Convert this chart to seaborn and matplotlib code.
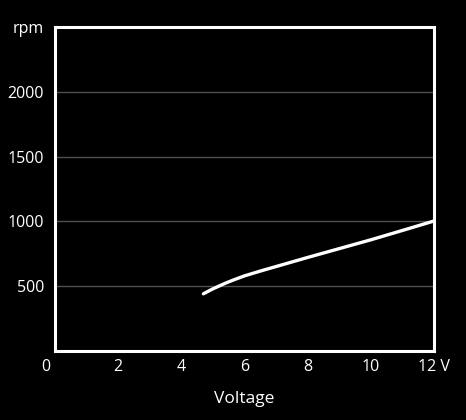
import matplotlib
matplotlib.use("Agg")
import matplotlib.pyplot as plt
import matplotlib.transforms as mtransforms
import seaborn as sns
import pandas as pd

# valores
voltage = [4.7, 5.0, 5.4, 5.7, 6.0, 6.5, 7.0, 8.0, 9.0, 10.0, 11.0, 12.0]
rpm = [442, 480, 524, 553, 580, 617, 652, 722, 790, 858, 930, 1003]

x_ticks = [0, 2, 4, 6, 8, 10, 12]
x_labels = ["0", "2", "4", "6", "8", "10", "12 V"]
y_ticks = [500, 1000, 1500, 2000, 2500]
y_labels = ["500", "1000", "1500", "2000", "rpm"]

sns.set_style("dark")
plt.rcParams['font.family'] = ['Open Sans', 'DejaVu Sans']

df = pd.DataFrame({'Voltage': voltage, 'rpm': rpm})

fig = plt.figure(figsize=(4.66, 4.2), dpi=100, facecolor='black')
ax = fig.add_axes([0.118, 0.164, 0.813, 0.772])
ax.set_facecolor('black')

# linhas de grade
for y in y_ticks[:-1]:
    ax.axhline(y, color='#505050', lw=1.0, zorder=1)

sns.lineplot(data=df, x='Voltage', y='rpm', ax=ax, color='white', lw=2.4, zorder=3)

ax.set_xlim(0, 12)
ax.set_ylim(0, 2500)

ax.set_xticks(x_ticks)
ax.set_xticklabels(x_labels)
ax.set_yticks(y_ticks)
ax.set_yticklabels(y_labels)

ax.tick_params(axis='x', direction='in', length=4, width=1, color='#bbbbbb',
               colors='white', labelsize=11.5, pad=6)
ax.tick_params(axis='y', length=0, colors='white', labelsize=11.5, pad=8)

# "0" fica um pouco à esquerda do eixo
lbl0 = ax.get_xticklabels()[0]
lbl0.set_transform(lbl0.get_transform() + mtransforms.ScaledTranslation(-9 / 100, 0, fig.dpi_scale_trans))
ax.xaxis.get_major_ticks()[0].tick1line.set_visible(False)
ax.xaxis.get_major_ticks()[-1].tick1line.set_visible(False)

for s in ax.spines.values():
    s.set_visible(True)
    s.set_color('white')
    s.set_linewidth(2.2)

ax.set_xlabel('Voltage', color='white', fontsize=12.5, labelpad=11)
ax.set_ylabel('')
ax.grid(False)

fig.savefig('out.png', dpi=100, facecolor='black')
